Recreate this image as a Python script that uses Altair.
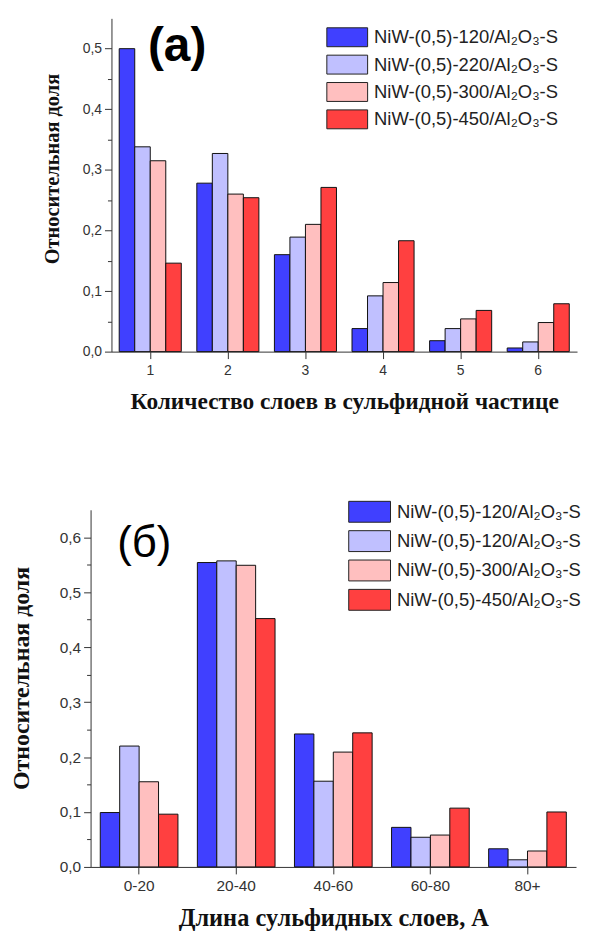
import altair as alt
import pandas as pd

# ---------------- data ----------------
cats_a = ["1", "2", "3", "4", "5", "6"]
a_120 = [0.500, 0.278, 0.160, 0.038, 0.018, 0.006]
a_220 = [0.338, 0.327, 0.189, 0.092, 0.038, 0.016]
a_300 = [0.315, 0.260, 0.210, 0.114, 0.054, 0.048]
a_450 = [0.146, 0.254, 0.271, 0.183, 0.068, 0.079]
labels_a = ["NiW-(0,5)-120/Al₂O₃-S", "NiW-(0,5)-220/Al₂O₃-S",
            "NiW-(0,5)-300/Al₂O₃-S", "NiW-(0,5)-450/Al₂O₃-S"]

cats_b = ["0-20", "20-40", "40-60", "60-80", "80+"]
b_s1 = [0.099, 0.554, 0.242, 0.072, 0.033]
b_s2 = [0.220, 0.557, 0.156, 0.054, 0.013]
b_s3 = [0.155, 0.549, 0.209, 0.058, 0.029]
b_s4 = [0.096, 0.452, 0.244, 0.107, 0.100]
labels_b = ["NiW-(0,5)-120/Al₂O₃-S", "NiW-(0,5)-120/Al₂O₃-S",
            "NiW-(0,5)-300/Al₂O₃-S", "NiW-(0,5)-450/Al₂O₃-S"]

series_keys = ["s1", "s2", "s3", "s4"]
colors = ["#4040FF", "#C0C0FF", "#FFBFBF", "#FF4040"]

ytitle = "Относительная доля"
xtitle_a = "Количество слоев в сульфидной частице"
xtitle_b = "Длина сульфидных слоев, А"
panel_a = "(a)"
panel_b = "(б)"


def long_df(cats, series):
    rows = []
    for key, vals in zip(series_keys, series):
        for c, v in zip(cats, vals):
            rows.append({"cat": c, "series": key, "value": v})
    return pd.DataFrame(rows)


def label_expr(labels):
    expr = "''"
    for key, lab in reversed(list(zip(series_keys, labels))):
        expr = f"datum.value == '{key}' ? '{lab}' : ({expr})"
    return expr


def rect_path(w, h):
    # symbol drawn with scale r = h/2, centred at x = h/2 by the legend
    r = h / 2.0
    right = w / r - 1.0
    return f"M-1,-1L{right:.3f},-1L{right:.3f},1L-1,1Z"


MAJOR = "abs(datum.value*10 - round(datum.value*10)) < 0.001"


def panel(cats, series, labels, xtitle, plabel, w, h, ymax, ytop,
          tick_font, xtitle_font, xtitle_pad, ytitle_font, ytitle_pad, ytitle_y,
          legx, legy, leg_font, sym_w, sym_h, leg_row,
          lab_x, lab_y, lab_weight, lab_size):
    df = long_df(cats, series)
    ticks = [round(i * 0.05, 2) for i in range(int(round(ytop / 0.05)) + 1)]
    bars = alt.Chart(df).mark_bar(stroke="#111111", strokeWidth=1).encode(
        x=alt.X("cat:N", sort=cats,
                scale=alt.Scale(paddingInner=0, paddingOuter=0),
                axis=alt.Axis(title=xtitle, labelAngle=0, labelFont="Liberation Sans",
                              labelFontSize=tick_font, labelColor="#333333",
                              tickSize=7, tickColor="#333333", domainColor="#333333",
                              labelPadding=5, labelOverlap=False, labelBound=False,
                              labelFlush=False, titleFont="Liberation Serif",
                              titleFontWeight="bold", titleFontSize=xtitle_font,
                              titleColor="#111111", titlePadding=xtitle_pad, grid=False)),
        xOffset=alt.XOffset("series:N", sort=series_keys,
                            scale=alt.Scale(paddingInner=0, paddingOuter=0.5)),
        y=alt.Y("value:Q", scale=alt.Scale(domain=[0, ymax], nice=False, zero=True),
                axis=alt.Axis(title=ytitle, values=ticks,
                              labelExpr=f"{MAJOR} ? replace(format(datum.value, '.1f'), '.', ',') : ''",
                              tickSize={"condition": {"test": MAJOR, "value": 7}, "value": 4},
                              labelFont="Liberation Sans", labelFontSize=tick_font,
                              labelColor="#333333", tickColor="#333333",
                              domainColor="#333333", labelPadding=3, grid=False,
                              titleFont="Liberation Serif", titleFontWeight="bold",
                              titleFontSize=ytitle_font, titleColor="#111111",
                              titlePadding=ytitle_pad, titleY=ytitle_y)),
        color=alt.Color("series:N", sort=series_keys,
                        scale=alt.Scale(domain=series_keys, range=colors),
                        legend=alt.Legend(orient="none", legendX=legx, legendY=legy,
                                          title=None, labelExpr=label_expr(labels),
                                          symbolType=rect_path(sym_w, sym_h),
                                          symbolSize=sym_h * sym_h,
                                          symbolStrokeColor="#222222", symbolStrokeWidth=1,
                                          symbolOpacity=1,
                                          labelFont="Liberation Sans", labelFontSize=leg_font,
                                          labelColor="#222222", labelLimit=400,
                                          labelOffset=sym_w + 6 - sym_h,
                                          rowPadding=leg_row, padding=0, offset=0)),
    )
    txt = alt.Chart(pd.DataFrame({"t": [plabel]})).mark_text(
        font="Liberation Sans", fontSize=lab_size, fontWeight=lab_weight,
        color="#000000", align="center", baseline="middle"
    ).encode(text="t:N", x=alt.value(lab_x), y=alt.value(lab_y))
    return alt.layer(bars, txt).properties(width=w, height=h)


chart_a = panel(cats_a, [a_120, a_220, a_300, a_450], labels_a, xtitle_a, panel_a,
                468, 335, 0.55, 0.5,
                14, 23.5, 12, 20.5, 20, 151,
                320, 9, 18.5, 41, 19, 3.5,
                66, 29, "bold", 48)
chart_b = panel(cats_b, [b_s1, b_s2, b_s3, b_s4], labels_b, xtitle_b, panel_b,
                488, 359, 0.65, 0.6,
                15.5, 24.5, 12, 24, 25.5, 169,
                342, -9, 18.5, 42, 21, 3.5,
                54, 34, "normal", 44)


def spacer(w, tag):
    return alt.Chart(pd.DataFrame({"s": [tag]})).mark_text(text="", opacity=0).encode(
        x=alt.value(0), y=alt.value(15)).properties(width=w, height=20)


top = alt.hconcat(spacer(34, "top"), chart_a, spacing=0)
bottom = alt.hconcat(spacer(1, "bottom"), chart_b, spacing=0)

chart = alt.vconcat(top, bottom, spacing=88).properties(
    padding={"left": 0, "top": 8, "right": 0, "bottom": 0}
).configure_view(stroke=None).resolve_scale(color="independent", xOffset="independent")

chart.save("out.html", embed_options={"renderer": "svg", "actions": False})
